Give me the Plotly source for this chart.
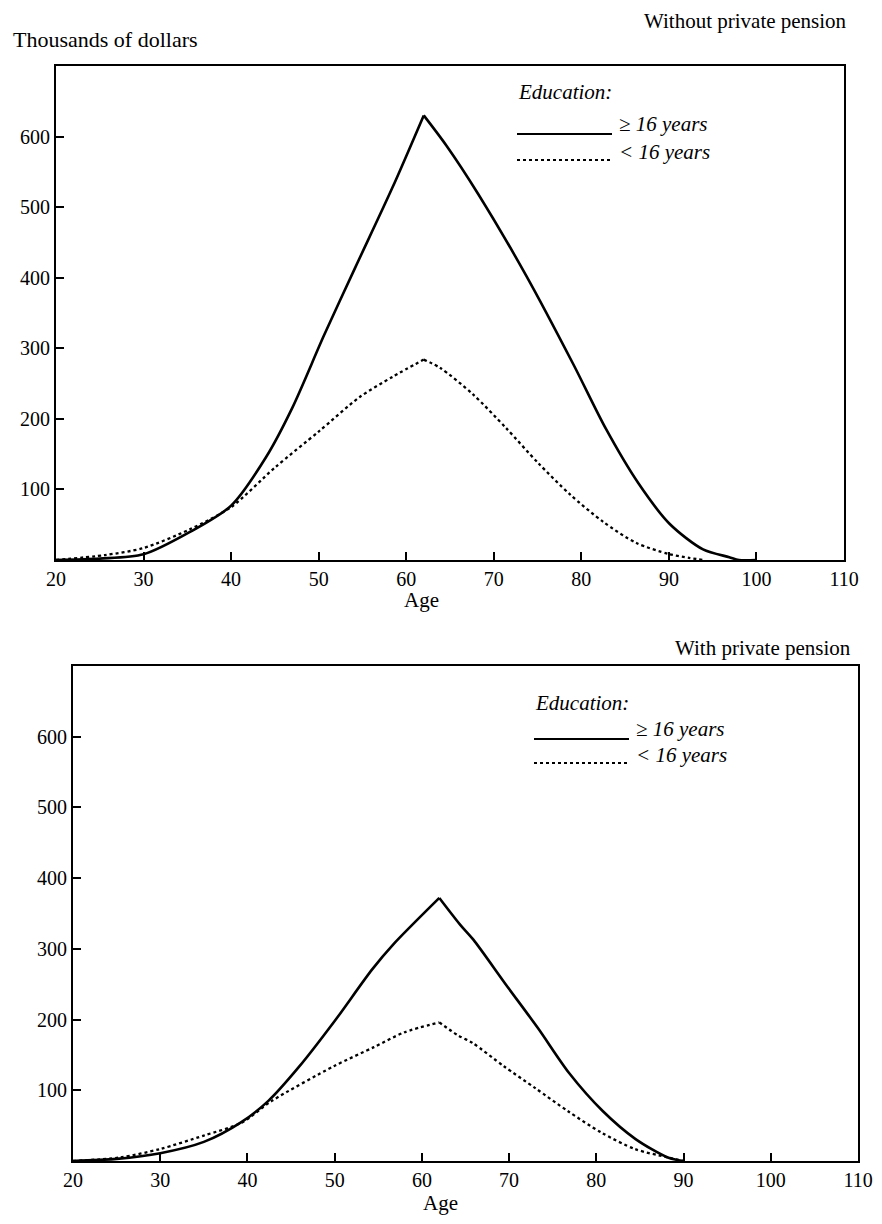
import plotly.graph_objects as go

# ---- Data (thousands of dollars by age) ----
# Top panel: without private pension
top_hi_age = [20, 25, 30, 35.2, 40, 44, 47, 50.6, 54.2, 58.4, 62, 64.6, 68.2, 73.7, 79.1, 82.8, 86.5, 90.1, 93.9, 96.9, 98, 100]
top_hi_val = [0, 2, 8, 39, 77, 146, 216, 318, 415, 527, 630, 587, 519, 403, 277, 186, 109, 51, 15, 4, 0, 0]
top_lo_age = [20, 25.6, 30, 35.2, 40, 45, 50, 54.7, 58.5, 62, 63.9, 67.6, 71.4, 75.1, 78.7, 82.5, 86.3, 90, 92.3, 94]
top_lo_val = [0, 7, 17, 43, 75, 131, 182, 231, 260, 284, 272, 235, 187, 137, 93, 54, 24, 8.5, 3, 0]

# Bottom panel: with private pension
bot_hi_age = [20, 25, 30, 35, 39.3, 42.4, 45.9, 50, 54.3, 56.7, 62, 64.4, 65.9, 69.6, 73.3, 76.9, 80.7, 84.5, 88.2, 90]
bot_hi_val = [0, 3, 11, 27, 55, 85, 133, 198, 271, 306, 372, 334, 313, 250, 188, 124, 71, 31, 5, 0]
bot_lo_age = [20, 25.4, 30, 35, 39.3, 42.8, 49.9, 54.5, 58, 62, 64.1, 65.8, 69.4, 73, 76.8, 80.6, 84.4, 88.2, 90]
bot_lo_val = [0, 5, 17, 36, 54, 85, 134, 161, 182, 196, 178, 167, 134, 103, 70, 40, 17, 5, 0]

x_ticks = [20, 30, 40, 50, 60, 70, 80, 90, 100, 110]
y_ticks = [100, 200, 300, 400, 500, 600]

# the page body has an 8px margin, so the figure is sized to fit the window
OFF = 8
W, H = 882 - OFF, 1224 - OFF
FONT = "Liberation Serif"

def px(x):
    return (x - OFF) / W

def py(y):
    return 1 - (y - OFF) / H

fig = go.Figure()
solid = dict(color="black", width=2.6, shape="spline", smoothing=0.8)
dotted = dict(color="black", width=2.3, dash="dot", shape="spline", smoothing=0.8)

def add_curve(ages, vals, line, xa, ya):
    # rising and falling sides drawn separately so the peak stays sharp
    k = vals.index(max(vals))
    fig.add_trace(go.Scatter(x=ages[:k + 1], y=vals[:k + 1], mode="lines", line=line,
                             xaxis=xa, yaxis=ya, showlegend=False))
    fig.add_trace(go.Scatter(x=ages[k:], y=vals[k:], mode="lines", line=line,
                             xaxis=xa, yaxis=ya, showlegend=False))

add_curve(top_hi_age, top_hi_val, solid, "x", "y")
add_curve(top_lo_age, top_lo_val, dotted, "x", "y")
add_curve(bot_hi_age, bot_hi_val, solid, "x2", "y2")
add_curve(bot_lo_age, bot_lo_val, dotted, "x2", "y2")

axis_common = dict(showline=True, mirror=True, linecolor="black", linewidth=2.2,
                   ticks="inside", ticklen=8, tickwidth=1.8, tickcolor="black",
                   showgrid=False, zeroline=False, automargin=False,
                   tickfont=dict(family=FONT, size=20, color="black"))

fig.update_layout(
    width=W, height=H,
    margin=dict(l=0, r=0, t=0, b=0, autoexpand=False),
    paper_bgcolor="white", plot_bgcolor="white",
    xaxis=dict(domain=[px(56), px(844)], range=[20, 110], tickvals=x_ticks, anchor="y", **axis_common),
    yaxis=dict(domain=[py(560), py(66)], range=[0, 700], tickvals=y_ticks, anchor="x", **axis_common),
    xaxis2=dict(domain=[px(73), px(858)], range=[20, 110], tickvals=x_ticks, anchor="y2", **axis_common),
    yaxis2=dict(domain=[py(1161), py(666)], range=[0, 700], tickvals=y_ticks, anchor="x2", **axis_common),
)

ann = []
def text(x, y, s, xanchor="left", size=21, italic=False):
    t = f"<i>{s}</i>" if italic else s
    ann.append(dict(x=px(x), y=py(y), xref="paper", yref="paper", text=t, showarrow=False,
                    xanchor=xanchor, yanchor="middle", borderpad=0,
                    font=dict(family=FONT, size=size, color="black")))

text(12, 40, "Thousands of dollars", size=22)
text(848, 21, "Without private pension", xanchor="right", size=21)
text(421, 600, "Age", xanchor="center")
text(852, 648, "With private pension", xanchor="right", size=21)
text(440, 1203, "Age", xanchor="center")

shapes = []
def legend(x0, y_edu, y1, y2):
    text(x0, y_edu, "Education:", italic=True)
    text(x0 + 101, y1 - 10, "≥ 16 years", italic=True)
    text(x0 + 101, y2 - 8, "&lt; 16 years", italic=True)
    shapes.append(dict(type="line", xref="paper", yref="paper", x0=px(x0), x1=px(x0 + 95),
                       y0=py(y1), y1=py(y1), line=dict(color="black", width=2)))
    shapes.append(dict(type="line", xref="paper", yref="paper", x0=px(x0), x1=px(x0 + 95),
                       y0=py(y2), y1=py(y2), line=dict(color="black", width=2, dash="dot")))

legend(517, 92, 134, 160)
legend(534, 703, 739, 763)

fig.update_layout(annotations=ann, shapes=shapes)
fig.write_html("out.html")
